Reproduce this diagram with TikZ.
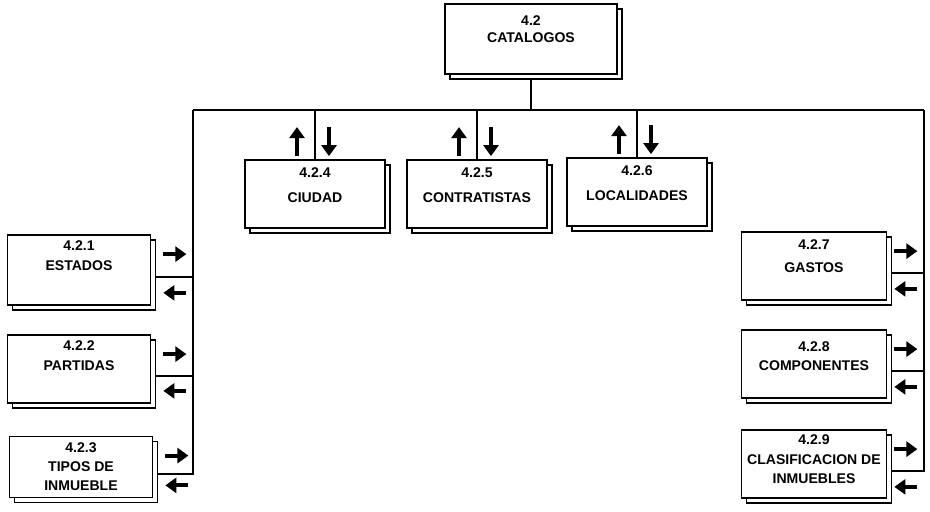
\documentclass[tikz,border=0pt]{standalone}
\usepackage{fontspec}
\setmainfont{Liberation Sans}
\usetikzlibrary{positioning,calc,arrows.meta,shadows}
\tikzset{
  box/.style={rectangle,draw,line width=1pt,fill=white,copy shadow={shadow xshift=1mm,shadow yshift=-1mm},minimum width=28.6mm,minimum height=14mm,inner sep=0pt},
  txt/.style={align=center,inner sep=0pt,font=\fontsize{8}{10}\selectfont\bfseries},
  ln/.style={line width=1pt},
  blk/.style={-{Triangle[length=2.2mm,width=3mm]},line width=2.3pt},
}

\begin{document}
\begin{tikzpicture}[x=0.2mm,y=-0.2mm]
  \useasboundingbox (0,0) rectangle (930,512);
  % top box
  \node[box,minimum width=34.4mm] (n42) at (531,39) {};
  \node[txt,below=2.4mm of n42.north] (t42) {4.2\\CATALOGOS};
  % middle row
  \node[box,minimum width=28mm,minimum height=13.6mm] (n424) at (315,194) {};
  \node[txt,below=1.7mm of n424.north] (t424) {4.2.4\\[4pt]CIUDAD};
  \node[box,minimum width=28mm,minimum height=13.6mm] (n425) at (477,194) {};
  \node[txt,below=1.7mm of n425.north] (t425) {4.2.5\\[4pt]CONTRATISTAS};
  \node[box,minimum width=28mm,minimum height=13.6mm] (n426) at (637,192) {};
  \node[txt,below=1.7mm of n426.north] (t426) {4.2.6\\[4pt]LOCALIDADES};
  % left column
  \node[box] (n421) at (79,270) {};
  \node[txt,below=1.3mm of n421.north] (t421) {4.2.1\\[1pt]ESTADOS};
  \node[box,minimum height=13.6mm] (n422) at (79,369) {};
  \node[txt,below=1.3mm of n422.north] (t422) {4.2.2\\[1pt]PARTIDAS};
  \node[box,minimum height=12.2mm] (n423) at (81,467) {};
  \node[txt,below=1.3mm of n423.north] (t423) {4.2.3\\[1pt]TIPOS DE\\[1pt]INMUEBLE};
  % right column
  \node[box,minimum width=29mm,minimum height=13.6mm] (n427) at (814,266) {};
  \node[txt,below=1.6mm of n427.north] (t427) {4.2.7\\[3pt]GASTOS};
  \node[box,minimum width=29mm,minimum height=13.6mm] (n428) at (814,364) {};
  \node[txt,below=2.4mm of n428.north] (t428) {4.2.8\\[1pt]COMPONENTES};
  \node[box,minimum width=29mm,minimum height=13.6mm] (n429) at (814,464) {};
  \node[txt,below=1.1mm of n429.north] (t429) {4.2.9\\[1pt]CLASIFICACION DE\\[1pt]INMUEBLES};
  % bus
  \coordinate (bus) at (531,110);
  \coordinate (busL) at (193,110);
  \coordinate (busR) at (924,110);
  \draw[ln] ([yshift=-1mm]n42.south) -- (bus);
  \draw[ln] (busL) -- (busR);
  \foreach \n in {n424,n425,n426}
    \draw[ln] (\n.north) -- (\n.north |- bus);
  \foreach \n in {n421,n422,n423}
    \draw[ln] (busL) |- ([shift={(1mm,-1.4mm)}]\n.east);
  \foreach \n in {n427,n428,n429}
    \draw[ln] (busR) |- ([shift={(1mm,-1.4mm)}]\n.east);
  % arrows
  \foreach \n in {n424,n425,n426} {
    \draw[blk] ([shift={(-3.6mm,0.6mm)}]\n.north) -- ++(0,5.8mm);
    \draw[blk] ([shift={(2.8mm,6.4mm)}]\n.north) -- ++(0,-5.8mm);
  }
  \foreach \n in {n421,n422,n423} {
    \draw[blk] ([shift={(2.4mm,-4mm)}]\n.north east) -- ++(4.6mm,0);
    \draw[blk] ([shift={(7mm,2.6mm)}]\n.south east) -- ++(-4.6mm,0);
  }
  \foreach \n in {n427,n428,n429} {
    \draw[blk] ([shift={(1.4mm,-4mm)}]\n.north east) -- ++(4.6mm,0);
    \draw[blk] ([shift={(6mm,2.4mm)}]\n.south east) -- ++(-4.6mm,0);
  }
\end{tikzpicture}
\end{document}
